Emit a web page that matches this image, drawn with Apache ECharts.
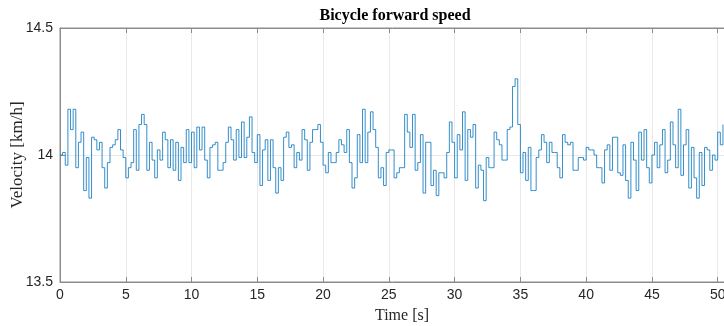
<!DOCTYPE html>
<html>
<head>
<meta charset="utf-8">
<script src="https://cdn.jsdelivr.net/npm/echarts@6/dist/echarts.min.js"></script>
<style>
  html, body { margin: 0; padding: 0; background: #fff; }
  #chart { width: 724px; height: 326px; }
</style>
</head>
<body>
<div id="chart"></div>
<script>
// sample spacing of the logged speed [s]
const sampleStep = 0.2;

// forward speed [km/h], one array per 5 s of the log
const speed00 = [14.00, 14.01, 13.96, 14.18, 14.10, 14.18, 13.95, 14.05, 14.09, 13.86, 13.99, 13.83, 14.07, 14.06, 14.02, 14.05, 13.95, 13.87, 13.97, 14.03, 14.04, 14.06, 14.10, 14.02, 13.99];
const speed05 = [13.91, 13.95, 13.97, 14.10, 13.94, 14.12, 14.16, 14.12, 13.94, 14.05, 13.98, 13.91, 14.02, 13.98, 14.09, 14.06, 13.95, 14.06, 13.94, 14.05, 13.90, 14.03, 13.97, 14.10, 13.97];
const speed10 = [14.09, 13.95, 14.11, 14.02, 14.11, 13.98, 13.91, 14.03, 14.04, 14.05, 13.94, 13.94, 13.97, 14.05, 14.11, 14.06, 13.98, 14.10, 13.99, 14.13, 13.99, 14.07, 14.15, 14.01, 13.97];
const speed15 = [14.08, 13.88, 14.02, 14.06, 13.90, 14.06, 13.95, 13.85, 13.95, 13.90, 14.07, 14.09, 14.03, 14.04, 13.95, 14.01, 13.98, 14.10, 14.06, 13.94, 14.05, 14.10, 14.10, 14.12, 14.05];
const speed20 = [13.96, 13.93, 14.01, 13.97, 13.97, 14.01, 14.06, 14.04, 14.01, 14.10, 13.97, 13.87, 13.91, 14.08, 13.97, 14.18, 13.97, 14.09, 14.17, 14.10, 14.03, 13.91, 13.95, 13.88, 14.01];
const speed25 = [14.02, 14.02, 13.91, 13.93, 13.95, 13.95, 14.16, 14.09, 14.03, 14.16, 13.94, 13.97, 14.08, 13.85, 14.05, 14.05, 13.88, 13.94, 13.84, 13.93, 13.93, 13.91, 14.01, 14.13, 14.05];
const speed30 = [13.91, 14.08, 14.02, 14.17, 13.90, 14.10, 14.07, 14.12, 13.87, 13.96, 13.94, 13.82, 13.99, 13.95, 13.95, 14.09, 14.06, 14.04, 13.98, 13.98, 14.10, 14.11, 14.27, 14.30, 14.12];
const speed35 = [13.93, 14.01, 13.90, 14.03, 13.86, 13.86, 13.99, 14.02, 14.08, 14.05, 13.97, 14.05, 14.01, 14.01, 13.95, 13.91, 14.08, 14.05, 14.04, 14.05, 13.94, 13.94, 13.99, 13.99, 13.98];
const speed40 = [14.03, 14.02, 14.02, 14.00, 13.95, 13.95, 13.89, 14.02, 14.04, 13.94, 14.07, 14.07, 13.93, 13.92, 14.04, 13.90, 13.83, 14.05, 13.98, 13.86, 14.09, 13.98, 14.10, 13.95, 13.89];
const speed45 = [14.00, 14.05, 13.95, 14.04, 14.10, 13.93, 13.98, 14.13, 14.04, 13.95, 14.18, 13.92, 14.04, 14.10, 13.87, 14.03, 13.91, 13.83, 14.01, 13.88, 14.03, 14.02, 13.94, 14.00, 13.98];
const speed50 = [14.09, 14.04, 14.12];

const timeTicks = [0, 5, 10, 15, 20, 25, 30, 35, 40, 45, 50];
const speedTicks = [13.5, 14, 14.5];

const speed = [].concat(speed00, speed05, speed10, speed15, speed20, speed25, speed30, speed35, speed40, speed45, speed50);
const points = speed.map((v, i) => [+(i * sampleStep).toFixed(1), v]);

const labelFont = { fontFamily: '"Liberation Sans", Arial, sans-serif', fontSize: 14, color: '#262626' };
const serifFont = '"Liberation Serif", "Times New Roman", serif';
const axisGray = '#8c8c8c';
const gridGray = '#e9e9e9';

const chart = echarts.init(document.getElementById('chart'), null, { renderer: 'canvas' });

chart.setOption({
    animation: false,
    title: {
        text: 'Bicycle forward speed',
        left: 390,
        top: 3,
        textAlign: 'center',
        textStyle: { fontFamily: serifFont, fontWeight: 'bold', fontSize: 16, color: '#000' },
    },
    // y axis title, placed by hand so it sits where the figure has it
    graphic: [
        {
            type: 'text',
            x: 18,
            y: 155,
            rotation: Math.PI / 2,
            style: {
                text: 'Velocity [km/h]',
                font: '17px "Liberation Serif", serif',
                fill: '#262626',
                align: 'center',
                verticalAlign: 'middle',
            },
        },
    ],
    grid: {
        left: 60,
        top: 28,
        right: -20,
        bottom: 44,
        outerBoundsMode: 'none',
        containLabel: false,
        show: true,
        borderColor: axisGray,
        borderWidth: 1,
    },
    xAxis: [
        {
            type: 'value',
            min: 0,
            max: 52,
            interval: 5,
            name: 'Time [s]',
            nameLocation: 'middle',
            nameGap: 26,
            nameTextStyle: { fontFamily: serifFont, fontSize: 16, color: '#262626' },
            axisLine: { show: true, lineStyle: { color: axisGray } },
            axisTick: { show: true, inside: true, length: 5, lineStyle: { color: axisGray } },
            axisLabel: {
                ...labelFont,
                margin: 6,
                showMaxLabel: false,
                formatter: v => (timeTicks.includes(v) ? String(v) : ''),
            },
            splitLine: { show: true, lineStyle: { color: gridGray } },
        },
        {
            type: 'value',
            position: 'top',
            min: 0,
            max: 52,
            interval: 5,
            axisLine: { show: true, lineStyle: { color: axisGray } },
            axisTick: { show: true, inside: true, length: 5, lineStyle: { color: axisGray } },
            axisLabel: { show: false },
            splitLine: { show: false },
        },
    ],
    yAxis: {
        type: 'value',
        min: 13.5,
        max: 14.5,
        interval: 0.5,
        axisLine: { show: true, lineStyle: { color: axisGray } },
        axisTick: { show: true, inside: true, length: 5, lineStyle: { color: axisGray } },
        axisLabel: {
            ...labelFont,
            margin: 7,
            formatter: v => (speedTicks.includes(v) ? String(v) : ''),
        },
        splitLine: { show: true, lineStyle: { color: gridGray } },
    },
    series: [
        {
            type: 'line',
            data: points,
            step: 'end',
            showSymbol: false,
            lineStyle: { color: '#0072BD', width: 0.8 },
            clip: true,
        },
    ],
});
</script>
</body>
</html>
